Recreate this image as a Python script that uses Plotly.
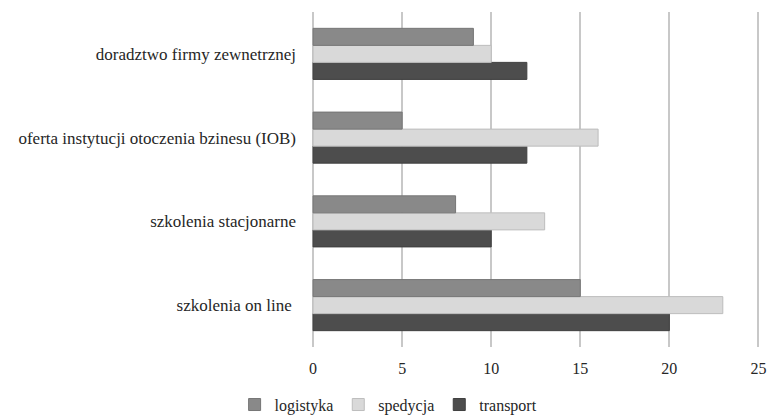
import plotly.graph_objects as go

categories = [
    "szkolenia on line ",
    "szkolenia stacjonarne",
    "oferta instytucji otoczenia bzinesu (IOB)",
    "doradztwo firmy zewnetrznej",
]
logistyka = [15, 8, 5, 9]
spedycja = [23, 13, 16, 10]
transport = [20, 10, 12, 12]
x_ticks = [0, 5, 10, 15, 20, 25]

font_family = "Liberation Serif, serif"
text_color = "#262626"

fig = go.Figure()
# Plotly stacks grouped horizontal bars bottom-up, so add transport first
series = [
    ("transport", transport, "#4d4d4d", "#3f3f3f"),
    ("spedycja", spedycja, "#d9d9d9", "#bdbdbd"),
    ("logistyka", logistyka, "#898989", "#767676"),
]
for name, vals, fill, edge in series:
    fig.add_trace(go.Bar(
        y=categories, x=vals, name=name, orientation="h",
        marker=dict(color=fill, line=dict(color=edge, width=1)),
    ))

fig.update_layout(
    width=768, height=415,
    margin=dict(l=312, r=6, t=12, b=68, autoexpand=False),
    paper_bgcolor="white", plot_bgcolor="white",
    barmode="group", bargap=0.39, bargroupgap=0,
    font=dict(family=font_family, color=text_color),
    legend=dict(
        orientation="h", traceorder="reversed",
        xref="container", yref="container",
        x=0.506, xanchor="center", y=0.025, yanchor="middle",
        font=dict(size=16, family=font_family, color=text_color),
        itemwidth=30,
    ),
    showlegend=True,
)
fig.update_xaxes(
    range=[-0.06, 25.2], tickvals=x_ticks, showgrid=True,
    gridcolor="#c8c8c8", gridwidth=2,
    zeroline=True, zerolinecolor="#c8c8c8", zerolinewidth=2,
    showline=False, automargin=False,
    tickfont=dict(size=16, family=font_family, color=text_color),
    ticklabelstandoff=10,
)
fig.update_yaxes(
    showgrid=False, zeroline=False, showline=False, automargin=False,
    tickfont=dict(size=17, family=font_family, color=text_color),
    ticklabelstandoff=15,
)

fig.write_html("out.html")
